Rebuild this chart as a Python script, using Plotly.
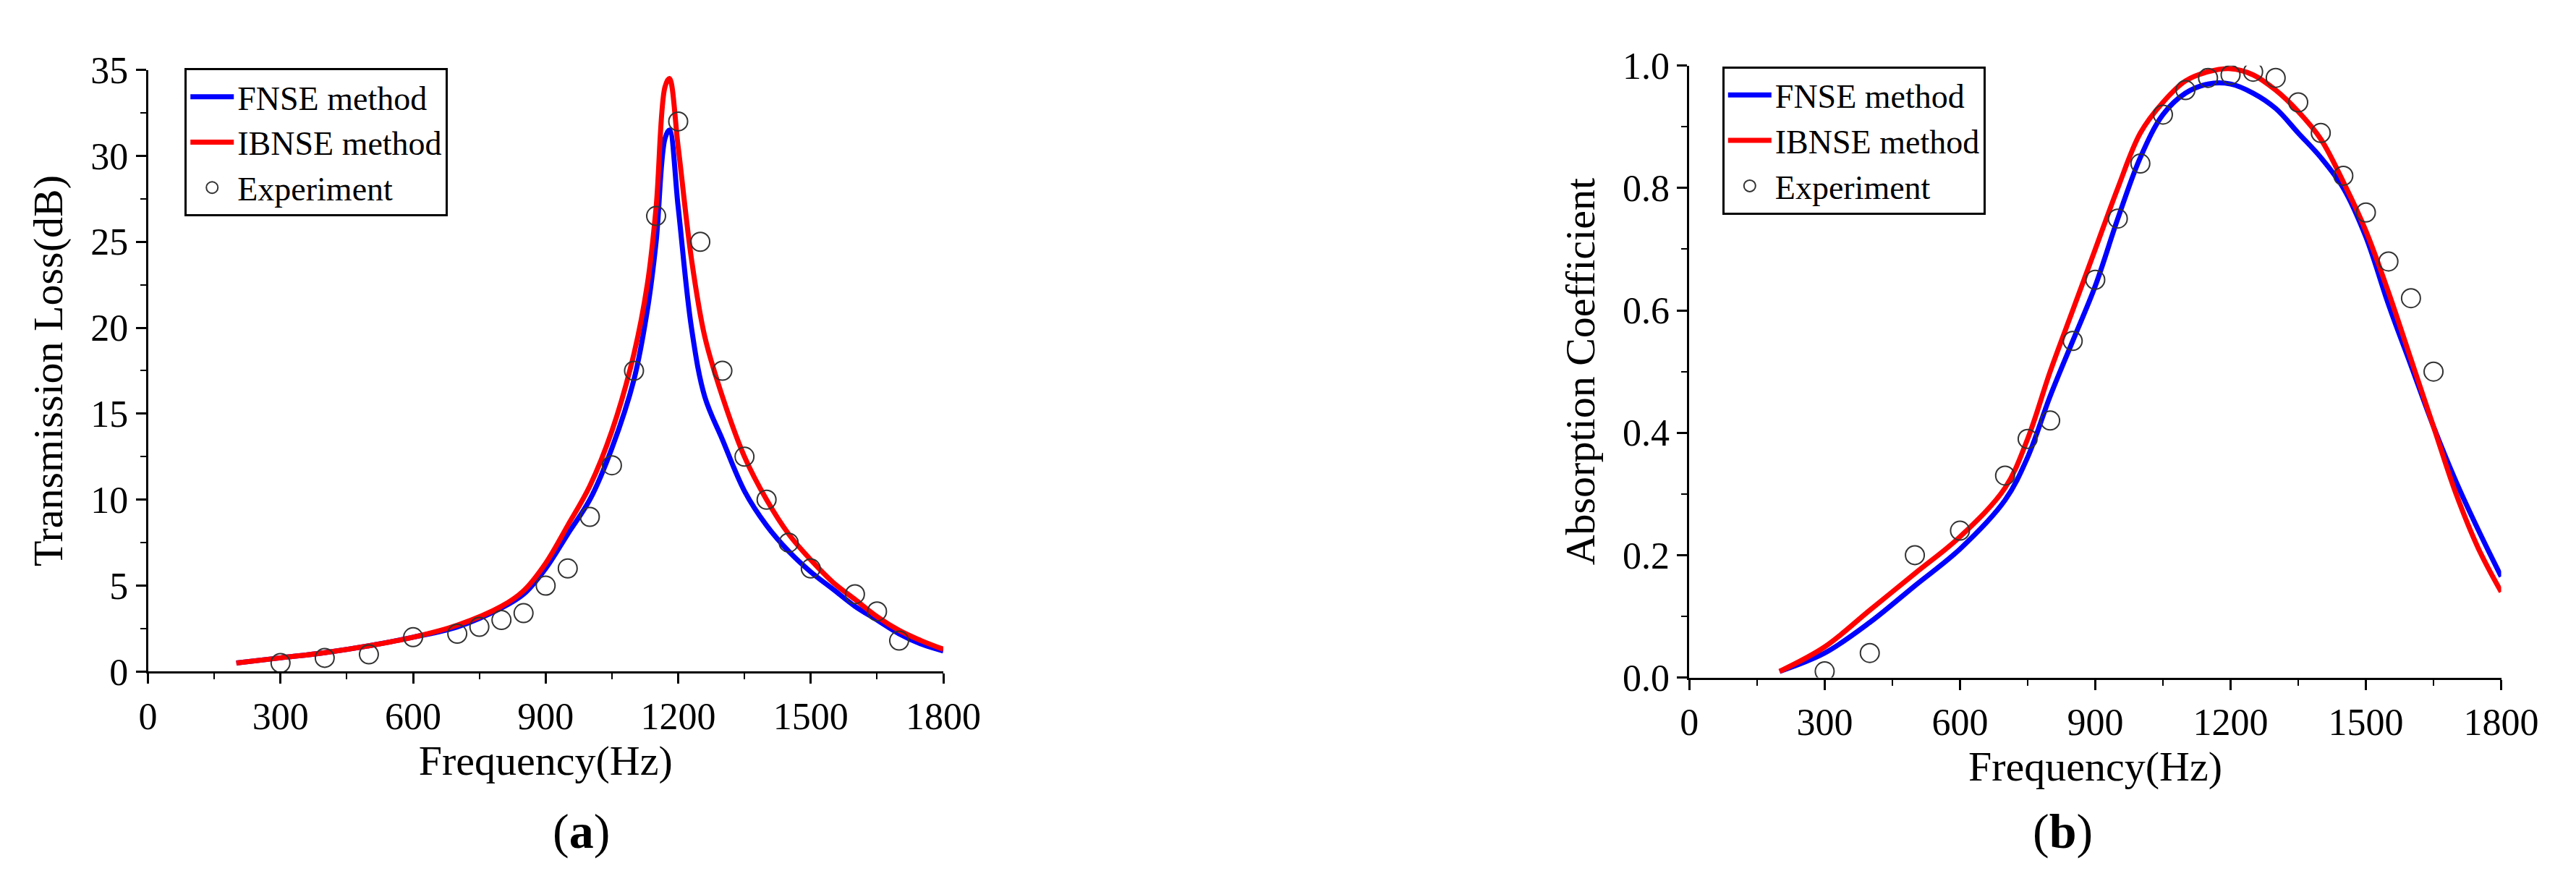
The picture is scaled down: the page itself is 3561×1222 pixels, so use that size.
import plotly.graph_objects as go

# (a) transmission loss
tl_x = [200, 300, 400, 500, 600, 700, 800, 850, 900, 950, 1000, 1050, 1100, 1130, 1150, 1170, 1180,
        1200, 1230, 1260, 1300, 1350, 1400, 1450, 1500, 1550, 1600, 1650, 1700, 1750, 1800]
tl_fnse = [0.5, 0.8, 1.1, 1.5, 2.0, 2.6, 3.7, 4.5, 6.0, 8.0, 10.0, 13.0, 17.0, 21.0, 25.0, 31.0, 31.5,
           27.0, 20.0, 16.0, 13.5, 10.5, 8.5, 7.0, 5.8, 4.8, 3.8, 3.0, 2.2, 1.6, 1.2]
tl_ibnse = [0.5, 0.8, 1.1, 1.5, 2.0, 2.7, 3.8, 4.7, 6.3, 8.5, 10.8, 14.0, 18.5, 22.5, 27.0, 34.0, 34.5,
            30.5, 24.0, 19.5, 16.0, 12.5, 10.0, 8.0, 6.5, 5.2, 4.2, 3.2, 2.4, 1.8, 1.3]
tl_exp_x = [300, 400, 500, 600, 700, 750, 800, 850, 900, 950, 1000, 1050, 1100, 1150, 1200,
            1250, 1300, 1350, 1400, 1450, 1500, 1600, 1650, 1700]
tl_exp = [0.5, 0.8, 1.0, 2.0, 2.2, 2.6, 3.0, 3.4, 5.0, 6.0, 9.0, 12.0, 17.5, 26.5, 32.0,
          25.0, 17.5, 12.5, 10.0, 7.5, 6.0, 4.5, 3.5, 1.8]

# (b) absorption coefficient
ac_x = [200, 300, 400, 500, 600, 700, 750, 800, 850, 900, 950, 1000, 1050, 1100, 1150, 1200,
        1250, 1300, 1350, 1400, 1450, 1500, 1550, 1600, 1650, 1700, 1750, 1800]
ac_fnse = [0.01, 0.04, 0.09, 0.15, 0.21, 0.29, 0.36, 0.46, 0.55, 0.64, 0.75, 0.85, 0.92, 0.955, 0.97, 0.97,
           0.955, 0.93, 0.89, 0.85, 0.80, 0.72, 0.61, 0.51, 0.41, 0.32, 0.24, 0.165]
ac_ibnse = [0.01, 0.05, 0.11, 0.17, 0.23, 0.31, 0.39, 0.50, 0.60, 0.70, 0.80, 0.89, 0.94, 0.975, 0.99, 0.995,
            0.985, 0.96, 0.925, 0.88, 0.81, 0.73, 0.63, 0.52, 0.41, 0.30, 0.21, 0.14]
ac_exp_x = [300, 400, 500, 600, 700, 750, 800, 850, 900, 950, 1000, 1050, 1100, 1150, 1200,
            1250, 1300, 1350, 1400, 1450, 1500, 1550, 1600, 1650]
ac_exp = [0.01, 0.04, 0.2, 0.24, 0.33, 0.39, 0.42, 0.55, 0.65, 0.75, 0.84, 0.92, 0.96, 0.98, 0.985,
          0.99, 0.98, 0.94, 0.89, 0.82, 0.76, 0.68, 0.62, 0.5]

xticks = [0, 300, 600, 900, 1200, 1500, 1800]
FONT = "Liberation Serif"

fig = go.Figure()
line_w = 7
mk = dict(symbol="circle-open", size=26, color="#333", line=dict(width=2))

fig.add_trace(go.Scatter(x=tl_x, y=tl_fnse, mode="lines", name="FNSE method", line=dict(color="#0000ff", width=line_w, shape="spline"), xaxis="x", yaxis="y", legend="legend"))
fig.add_trace(go.Scatter(x=tl_x, y=tl_ibnse, mode="lines", name="IBNSE method", line=dict(color="#ff0000", width=line_w, shape="spline"), xaxis="x", yaxis="y", legend="legend"))
fig.add_trace(go.Scatter(x=tl_exp_x, y=tl_exp, mode="markers", name="Experiment", marker=mk, xaxis="x", yaxis="y", legend="legend"))

fig.add_trace(go.Scatter(x=ac_x, y=ac_fnse, mode="lines", name="FNSE method", line=dict(color="#0000ff", width=line_w, shape="spline"), xaxis="x2", yaxis="y2", legend="legend2"))
fig.add_trace(go.Scatter(x=ac_x, y=ac_ibnse, mode="lines", name="IBNSE method", line=dict(color="#ff0000", width=line_w, shape="spline"), xaxis="x2", yaxis="y2", legend="legend2"))
fig.add_trace(go.Scatter(x=ac_exp_x, y=ac_exp, mode="markers", name="Experiment", marker=mk, xaxis="x2", yaxis="y2", legend="legend2"))

ax = dict(showgrid=False, zeroline=False, showline=True, linecolor="black", linewidth=3,
          ticks="outside", ticklen=14, tickwidth=3, tickcolor="black",
          tickfont=dict(family=FONT, size=52, color="black"),
          minor=dict(ticks="outside", ticklen=8, tickwidth=2, tickcolor="black"))
xax = dict(ax, tickvals=xticks, range=[0, 1800],
           minor=dict(ticks="outside", ticklen=8, tickwidth=2, tickcolor="black", dtick=150, tick0=0),
           title=dict(text="Frequency(Hz)", font=dict(family=FONT, size=58, color="black"), standoff=10))

legend_style = dict(bgcolor="white", bordercolor="black", borderwidth=3,
                    font=dict(family=FONT, size=46, color="black"),
                    traceorder="normal", itemwidth=60, xanchor="left", yanchor="top")

fig.update_layout(
    width=3561, height=1222, plot_bgcolor="white", paper_bgcolor="white",
    margin=dict(l=0, r=0, t=0, b=0),
    xaxis=dict(xax, domain=[0.0525, 0.367], anchor="y"),
    yaxis=dict(ax, domain=[0.234, 0.948], range=[0, 35], dtick=5, anchor="x",
               minor=dict(ticks="outside", ticklen=8, tickwidth=2, tickcolor="black", dtick=2.5),
               title=dict(text="Transmission Loss(dB)", font=dict(family=FONT, size=58, color="black"), standoff=20)),
    xaxis2=dict(xax, domain=[0.662, 0.983], anchor="y2"),
    yaxis2=dict(ax, domain=[0.227, 0.953], range=[0, 1.0], dtick=0.2, tickformat=".1f", anchor="x2",
                minor=dict(ticks="outside", ticklen=8, tickwidth=2, tickcolor="black", dtick=0.1),
                title=dict(text="Absorption Coefficient", font=dict(family=FONT, size=58, color="black"), standoff=20)),
    legend=dict(legend_style, x=0.067, y=0.95),
    legend2=dict(legend_style, x=0.675, y=0.952),
    showlegend=True,
)

fig.add_annotation(text="(<b>a</b>)", x=0.212, y=0.045, xref="paper", yref="paper", yanchor="middle",
                   showarrow=False, font=dict(family=FONT, size=68, color="black"))
fig.add_annotation(text="(<b>b</b>)", x=0.822, y=0.045, xref="paper", yref="paper", yanchor="middle",
                   showarrow=False, font=dict(family=FONT, size=68, color="black"))

fig.write_html("out.html")
